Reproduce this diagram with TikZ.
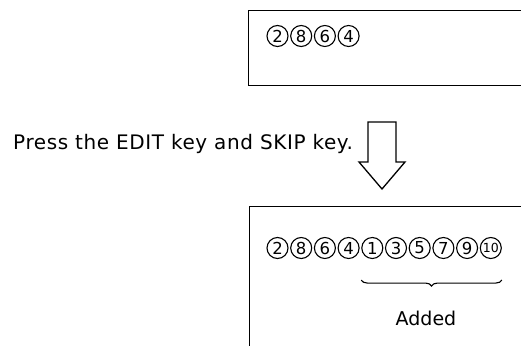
\documentclass[tikz,border=0pt]{standalone}
\usepackage{fontspec}
\setmainfont{DejaVu Sans}
\usepackage{tikz}
\usetikzlibrary{positioning, decorations.pathreplacing}

\begin{document}
\begin{tikzpicture}[x=1pt, y=-1pt, node distance=1.6pt,
        box/.style={rectangle, draw=black, line width=1.3pt, anchor=north west, minimum width=300pt, inner sep=0pt},
        digit/.style={circle, draw=black, line width=1.1pt, inner sep=0pt, minimum size=21pt, font=\fontsize{16.5}{16.5}\selectfont},
        brace/.style={decorate, decoration={brace, mirror, amplitude=6pt}, line width=1.1pt},
        label/.style={font=\fontsize{20}{24}\selectfont\addfontfeature{LetterSpace=3}, inner sep=0pt}]

        \useasboundingbox (0,0) rectangle (521,345);
        \clip (0,0) rectangle (521,345);

        % Before: display with the first four entries
        \node[box, minimum height=75pt] (before) at (248,10) {};
        \node[digit] (t1) at (277.5,36) {2};
        \node[digit, right=of t1] (t2) {8};
        \node[digit, right=of t2] (t3) {6};
        \node[digit, right=of t3] (t4) {4};

        % Key operation
        \node[label, anchor=base west] (press) at (13,149) {Press the EDIT key and SKIP key.};
        \draw[line width=1.3pt, line join=miter] (368,122) -- (396,122) -- (396,162) -- (405,162)
            -- (382,189) -- (359,162) -- (368,162) -- cycle;

        % After: display with the skipped entries added
        \node[box, minimum height=160pt] (after) at (249,206) {};
        \node[digit] (b1) at (277.5,248) {2};
        \node[digit, right=of b1] (b2) {8};
        \node[digit, right=of b2] (b3) {6};
        \node[digit, right=of b3] (b4) {4};
        \node[digit, right=of b4] (b5) {1};
        \node[digit, right=of b5] (b6) {3};
        \node[digit, right=of b6] (b7) {5};
        \node[digit, right=of b7] (b8) {7};
        \node[digit, right=of b8] (b9) {9};
        \node[digit, right=of b9, font=\fontsize{12.5}{12.5}\selectfont] (b10) {10};

        % Brace under the added entries
        \coordinate (bl) at ([yshift=-21pt]b5.south -| b5.west);
        \coordinate (br) at ([yshift=-21pt]b10.south -| b10.east);
        \draw[brace] (bl) -- (br);
        \node[label, font=\fontsize{19}{22}\selectfont] (added) at (426,318) {Added};
    \end{tikzpicture}
\end{document}
